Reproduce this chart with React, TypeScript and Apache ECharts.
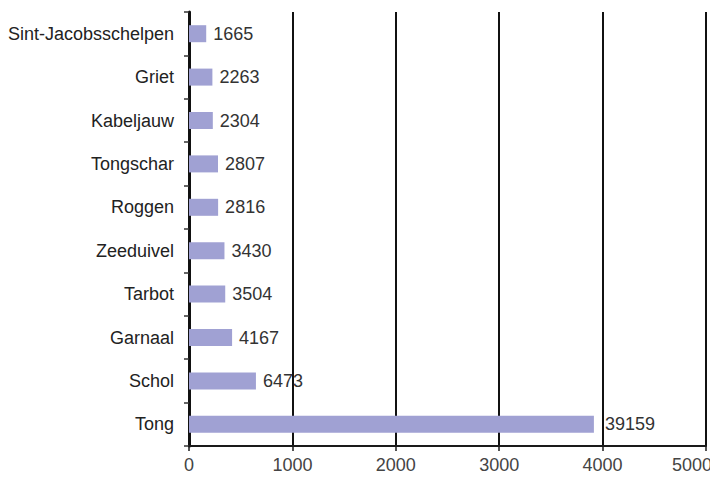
import React, { useEffect, useRef } from "react";
import * as echarts from "echarts";

const categories = [
  "Tong",
  "Schol",
  "Garnaal",
  "Tarbot",
  "Zeeduivel",
  "Roggen",
  "Tongschar",
  "Kabeljauw",
  "Griet",
  "Sint-Jacobsschelpen",
];
// values shown in labels
const labelValues = [39159, 6473, 4167, 3504, 3430, 2816, 2807, 2304, 2263, 1665];
// bar lengths as plotted on the axis (the source chart draws them at one tenth)
const barValues = [3915.9, 647.3, 416.7, 350.4, 343.0, 281.6, 280.7, 230.4, 226.3, 166.5];
const xTicks = [0, 1000, 2000, 3000, 4000, 5000];

export default function App() {
  const ref = useRef<HTMLDivElement>(null);
  useEffect(() => {
    if (!ref.current) return;
    const chart = echarts.init(ref.current, undefined, { renderer: "svg" });
    const font = "'Liberation Sans', Arial, sans-serif";
    const maxTick = xTicks[xTicks.length - 1];
    chart.setOption({
      animation: false,
      grid: {
        left: 181,
        top: 4,
        width: 517,
        height: 434,
        containLabel: false,
        outerBoundsMode: "none",
      },
      xAxis: {
        type: "value",
        min: xTicks[0],
        max: maxTick,
        interval: 1000,
        axisLine: { show: true, lineStyle: { color: "#1a1a1a", width: 2 } },
        axisTick: { show: true, length: 5, lineStyle: { color: "#1a1a1a", width: 1.5 } },
        axisLabel: {
          color: "#444",
          fontSize: 18,
          fontFamily: font,
          margin: 10,
          formatter: (v: number) => (v === maxTick ? `{last|${v}}` : String(v)),
          rich: {
            last: {
              color: "#444",
              fontSize: 18,
              fontFamily: font,
              padding: [0, 28, 0, 0],
            },
          },
        },
        splitLine: { show: true, lineStyle: { color: "#111", width: 2 } },
      },
      yAxis: {
        type: "category",
        data: categories,
        axisLine: { show: true, lineStyle: { color: "#111", width: 3 } },
        axisTick: { show: true, length: 5, lineStyle: { color: "#333", width: 1.5 } },
        axisLabel: { color: "#222", fontSize: 18, fontFamily: font, margin: 15 },
        splitLine: { show: false },
      },
      series: [
        {
          type: "bar",
          data: barValues.map((v, i) =>
            i === 0 ? { value: v, label: { distance: 11 } } : v
          ),
          barWidth: 17,
          itemStyle: { color: "#a0a1d3" },
          label: {
            show: true,
            position: "right",
            distance: 7,
            color: "#333",
            fontSize: 18,
            fontFamily: font,
            formatter: (p: any) => String(labelValues[p.dataIndex]),
          },
        },
      ],
    });
    return () => chart.dispose();
  }, []);
  return <div ref={ref} style={{ width: 710, height: 470 }} />;
}
